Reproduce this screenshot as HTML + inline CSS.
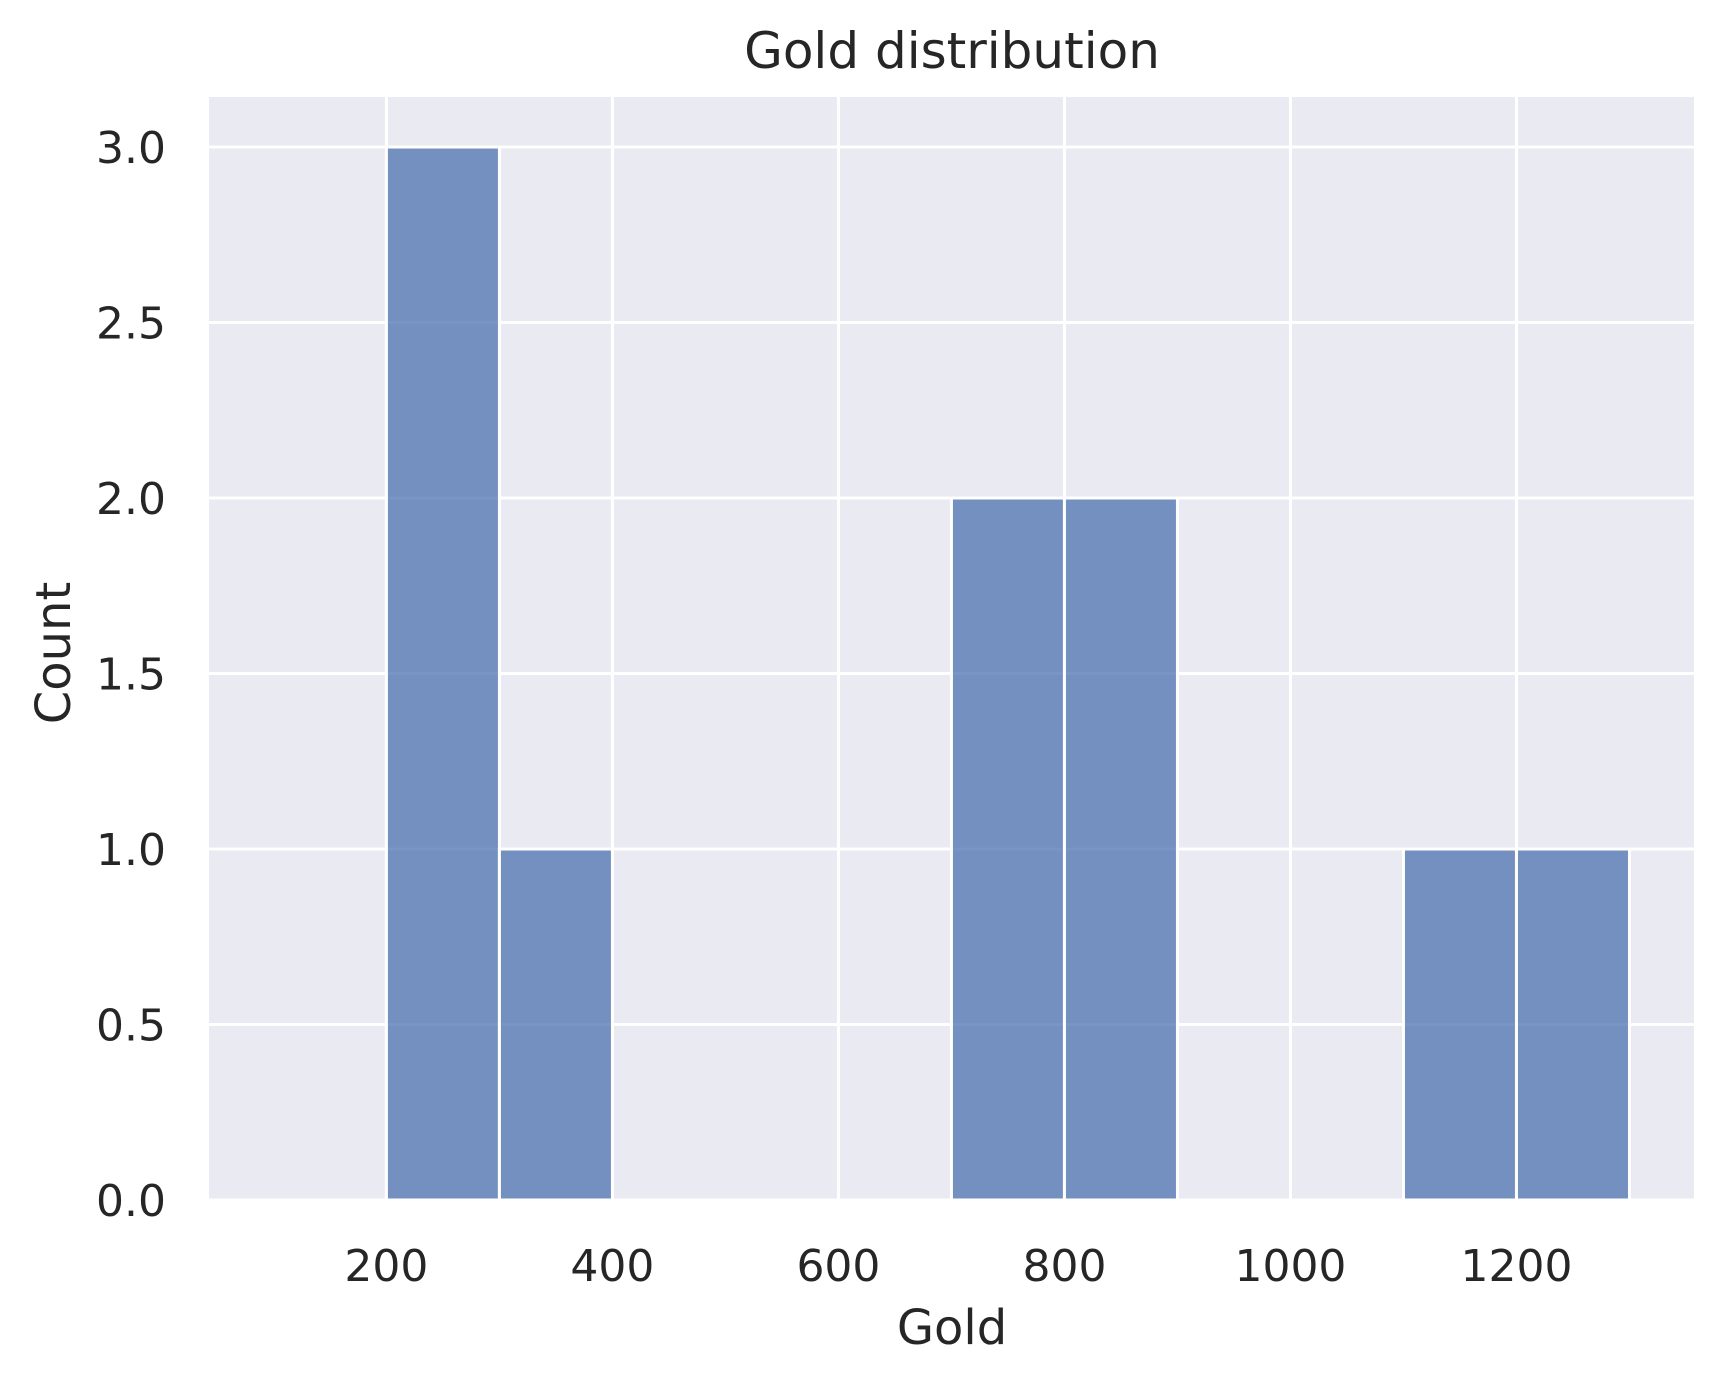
<!DOCTYPE html>
<html><head><meta charset="utf-8"><style>
body{margin:0;background:#fff}
svg{display:block;font-family:"DejaVu Sans","Liberation Sans",sans-serif}
</style></head><body>
<svg id="chart" width="1725" height="1381" viewBox="0 0 1725 1381" xmlns="http://www.w3.org/2000/svg">
<rect x="209" y="97" width="1485" height="1103" fill="#eaeaf2"/>
<g id="grid"></g>
<g id="bars"></g>
<g id="ticks"></g>
<text x="952" y="68" font-size="50" text-anchor="middle" fill="#262626">Gold distribution</text>
<text x="952" y="1344" font-size="48" text-anchor="middle" fill="#262626">Gold</text>
<text x="0" y="0" font-size="48" text-anchor="middle" fill="#262626" transform="translate(70,653) rotate(-90)">Count</text>
</svg>
<script>
const binStarts=[200,300,400,500,600,700,800,900,1000,1100,1200];
const binWidth=100;
const counts=[3,1,0,0,0,2,2,0,0,1,1];
const xTicks=[200,400,600,800,1000,1200];
const yTicks=[0,0.5,1,1.5,2,2.5,3];
const yTickLabels=["0.0","0.5","1.0","1.5","2.0","2.5","3.0"];

const L=209,R=1694,T=97,B=1200;
const xMin=43,xMax=1357.1;
const yMin=0,yMax=3.1425;
const x=v=>L+(v-xMin)/(xMax-xMin)*(R-L);
const y=v=>B-(v-yMin)/(yMax-yMin)*(B-T);
const NS="http://www.w3.org/2000/svg";
function mk(tag,attrs,parent){const e=document.createElementNS(NS,tag);for(const k in attrs)e.setAttribute(k,attrs[k]);document.getElementById(parent).appendChild(e);return e;}

xTicks.forEach(t=>{
  const l=mk('line',{x1:x(t),x2:x(t),y1:T,y2:B,stroke:'#fff','stroke-width':3},'grid');
  
  
  const tx=mk('text',{x:x(t),y:1281,'font-size':44,'text-anchor':'middle',fill:'#262626'},'ticks');
  tx.textContent=t;
  
  
});
yTicks.forEach((t,i)=>{
  const l=mk('line',{x1:L,x2:R,y1:y(t),y2:y(t),stroke:'#fff','stroke-width':3},'grid');
  
  
  const tx=mk('text',{x:166,y:y(t)+16,'font-size':44,'text-anchor':'end',fill:'#262626'},'ticks');
  tx.textContent=yTickLabels[i];
  
  
});
binStarts.forEach((b,i)=>{
  if(counts[i]<=0)return;
  const r=mk('rect',{x:x(b),y:y(counts[i]),width:x(b+binWidth)-x(b),height:y(0)-y(counts[i]),fill:'#4c72b0','fill-opacity':0.75,stroke:'#fff','stroke-width':3},'bars');
  
  
});
</script>
</body></html>
